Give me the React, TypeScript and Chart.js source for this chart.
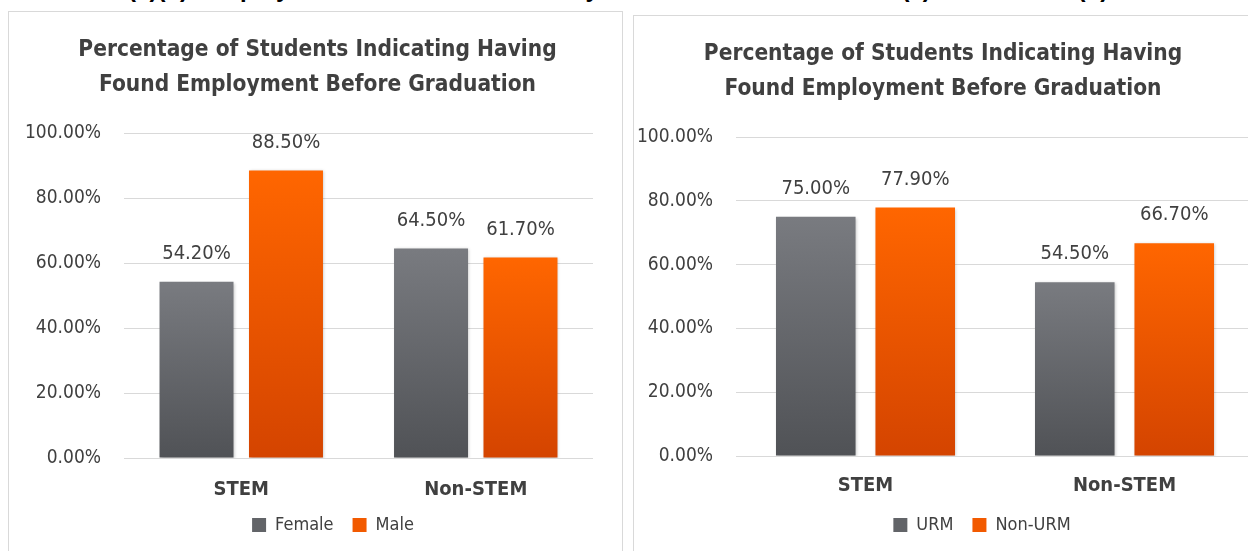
import React, { useEffect, useRef } from "react";
import { Chart, registerables } from "chart.js";

Chart.register(...registerables);

const FONT = "'Liberation Sans Narrow', 'DejaVu Sans Condensed', 'Arial Narrow', sans-serif";
const TEXT = "#404040";

// Data
const categories = ["STEM", "Non-STEM"];
const genderLabels = ["Female", "Male"];
const femaleValues = [54.2, 64.5];
const maleValues = [88.5, 61.7];
const urmLabels = ["URM", "Non-URM"];
const urmValues = [75.0, 54.5];
const nonUrmValues = [77.9, 66.7];
const yTickStep = 20;
const yMax = 100;
const chartTitle = ["Percentage of Students Indicating Having", "Found Employment Before Graduation"];
const caption =
  "Chart 3.15(a)(b): Employment Before Graduation by Student Characteristics \u2013 (a) Gender and (b) URM Status";

type Palette = { top: string; bottom: string; legend: string };
const GREY: Palette = { top: "#797b80", bottom: "#505256", legend: "#626468" };
const ORANGE: Palette = { top: "#ff6600", bottom: "#d44400", legend: "#f25a00" };

type PanelCfg = {
  seriesLabels: string[];
  series: number[][];
  width: number;
  height: number;
  yAxisWidth: number;
  rightPad: number;
  xAxisHeight: number;
  xLabelPad: number;
  titleShift: number;
  legendShift: number;
  legendLift: number;
  categoryPercentage: number;
  barPercentage: number;
};

const gradientFill = (pal: Palette) => (ctx: any) => {
  const chart = ctx.chart;
  const y = chart.scales && chart.scales.y;
  if (!chart.chartArea || !y || ctx.type !== "data") return pal.top;
  const v = ctx.raw as number;
  const top = y.getPixelForValue(v);
  const bottom = y.getPixelForValue(0);
  if (!isFinite(top) || !isFinite(bottom) || top === bottom) return pal.top;
  const g = chart.ctx.createLinearGradient(0, top, 0, bottom);
  g.addColorStop(0, pal.top);
  g.addColorStop(1, pal.bottom);
  return g;
};

const barShadow = {
  id: "barShadow",
  beforeDatasetsDraw(chart: any) {
    const c = chart.ctx;
    c.save();
    c.shadowColor = "rgba(0,0,0,0.22)";
    c.shadowBlur = 3;
    c.shadowOffsetX = 1;
    c.shadowOffsetY = 1;
  },
  afterDatasetsDraw(chart: any) {
    chart.ctx.restore();
  },
};

const barLabels = {
  id: "barLabels",
  afterDatasetsDraw(chart: any) {
    const c = chart.ctx;
    c.save();
    c.font = `20px ${FONT}`;
    c.fillStyle = TEXT;
    c.textAlign = "center";
    c.textBaseline = "middle";
    chart.data.datasets.forEach((ds: any, di: number) => {
      const meta = chart.getDatasetMeta(di);
      meta.data.forEach((bar: any, i: number) => {
        const v = ds.data[i] as number;
        c.fillText(v.toFixed(2) + "%", bar.x, bar.y - 28);
      });
    });
    c.restore();
  },
};

function makeShift(titleShift: number, legendShift: number, legendLift: number) {
  return {
    id: "boxShift",
    afterLayout(chart: any) {
      const t = chart.titleBlock;
      if (t) {
        t.left += titleShift;
        t.right += titleShift;
      }
      const l = chart.legend;
      if (l) {
        l.left += legendShift;
        l.right += legendShift;
        l.top -= legendLift;
        l.bottom -= legendLift;
      }
    },
  };
}

function Panel({ cfg }: { cfg: PanelCfg }) {
  const ref = useRef<HTMLCanvasElement | null>(null);
  useEffect(() => {
    if (!ref.current) return;
    const palettes = [GREY, ORANGE];
    const chart = new Chart(ref.current, {
      type: "bar",
      data: {
        labels: categories,
        datasets: cfg.series.map((vals, i) => ({
          label: cfg.seriesLabels[i],
          data: vals,
          backgroundColor: gradientFill(palettes[i]),
          borderWidth: 0,
          categoryPercentage: cfg.categoryPercentage,
          barPercentage: cfg.barPercentage,
        })),
      },
      options: {
        responsive: false,
        animation: false,
        devicePixelRatio: 1,
        layout: { padding: { left: 0, right: cfg.rightPad, top: 0, bottom: 0 } },
        plugins: {
          title: {
            display: true,
            text: chartTitle,
            color: TEXT,
            font: { family: FONT, size: 22.5, weight: "bold", lineHeight: 1.556 },
            padding: { top: 20.5, bottom: 30.5 },
          },
          legend: {
            position: "bottom",
            labels: {
              boxWidth: 14,
              boxHeight: 14,
              padding: 19,
              color: TEXT,
              font: { family: FONT, size: 18 },
              generateLabels: () =>
                cfg.seriesLabels.map((t, i) => ({
                  text: t,
                  fillStyle: palettes[i].legend,
                  strokeStyle: palettes[i].legend,
                  lineWidth: 0,
                  hidden: false,
                  datasetIndex: i,
                  fontColor: TEXT,
                })),
            },
          },
          tooltip: { enabled: false },
        },
        scales: {
          x: {
            grid: { display: false },
            border: { display: false },
            ticks: {
              color: TEXT,
              font: { family: FONT, size: 20, weight: "bold" },
              padding: cfg.xLabelPad,
            },
            afterFit: (s: any) => {
              s.height = cfg.xAxisHeight;
            },
          },
          y: {
            min: 0,
            max: yMax,
            ticks: {
              stepSize: yTickStep,
              color: TEXT,
              font: { family: FONT, size: 19 },
              padding: 23,
              callback: (v: any) => Number(v).toFixed(2) + "%",
            },
            grid: { color: "#d9d9d9", drawTicks: false, lineWidth: 1 },
            border: { display: false },
            afterFit: (s: any) => {
              s.width = cfg.yAxisWidth;
            },
          },
        },
      } as any,
      plugins: [barShadow, barLabels, makeShift(cfg.titleShift, cfg.legendShift, cfg.legendLift)],
    });
    return () => chart.destroy();
  }, [cfg]);
  return (
    <canvas
      ref={ref}
      width={cfg.width}
      height={cfg.height}
      style={{ display: "block", width: cfg.width, height: cfg.height }}
    />
  );
}

const genderPanel: PanelCfg = {
  seriesLabels: genderLabels,
  series: [femaleValues, maleValues],
  width: 613,
  height: 545,
  yAxisWidth: 115,
  rightPad: 29,
  xAxisHeight: 52,
  xLabelPad: 11.5,
  titleShift: 16.5,
  legendShift: 32,
  legendLift: 13,
  categoryPercentage: 0.763,
  barPercentage: 0.827,
};

const urmPanel: PanelCfg = {
  seriesLabels: urmLabels,
  series: [urmValues, nonUrmValues],
  width: 660,
  height: 539,
  yAxisWidth: 102,
  rightPad: 40,
  xAxisHeight: 52,
  xLabelPad: 9.5,
  titleShift: -1,
  legendShift: 38,
  legendLift: 11,
  categoryPercentage: 0.768,
  barPercentage: 0.8,
};

export default function App() {
  return (
    <div
      style={{
        position: "fixed",
        left: 0,
        top: 0,
        width: 1248,
        height: 551,
        overflow: "hidden",
        background: "#ffffff",
      }}
    >
      <div
        style={{
          position: "absolute",
          left: 12,
          top: -23,
          whiteSpace: "nowrap",
          font: `bold 24px 'Liberation Sans', Arial, sans-serif`,
          lineHeight: "24px",
          color: "#000",
        }}
      >
        {caption}
      </div>
      <div
        style={{
          position: "absolute",
          left: 8,
          top: 11,
          width: 613,
          height: 600,
          border: "1px solid #d9d9d9",
        }}
      >
        <Panel cfg={genderPanel} />
      </div>
      <div
        style={{
          position: "absolute",
          left: 633,
          top: 15,
          width: 660,
          height: 600,
          border: "1px solid #d9d9d9",
        }}
      >
        <Panel cfg={urmPanel} />
      </div>
    </div>
  );
}
